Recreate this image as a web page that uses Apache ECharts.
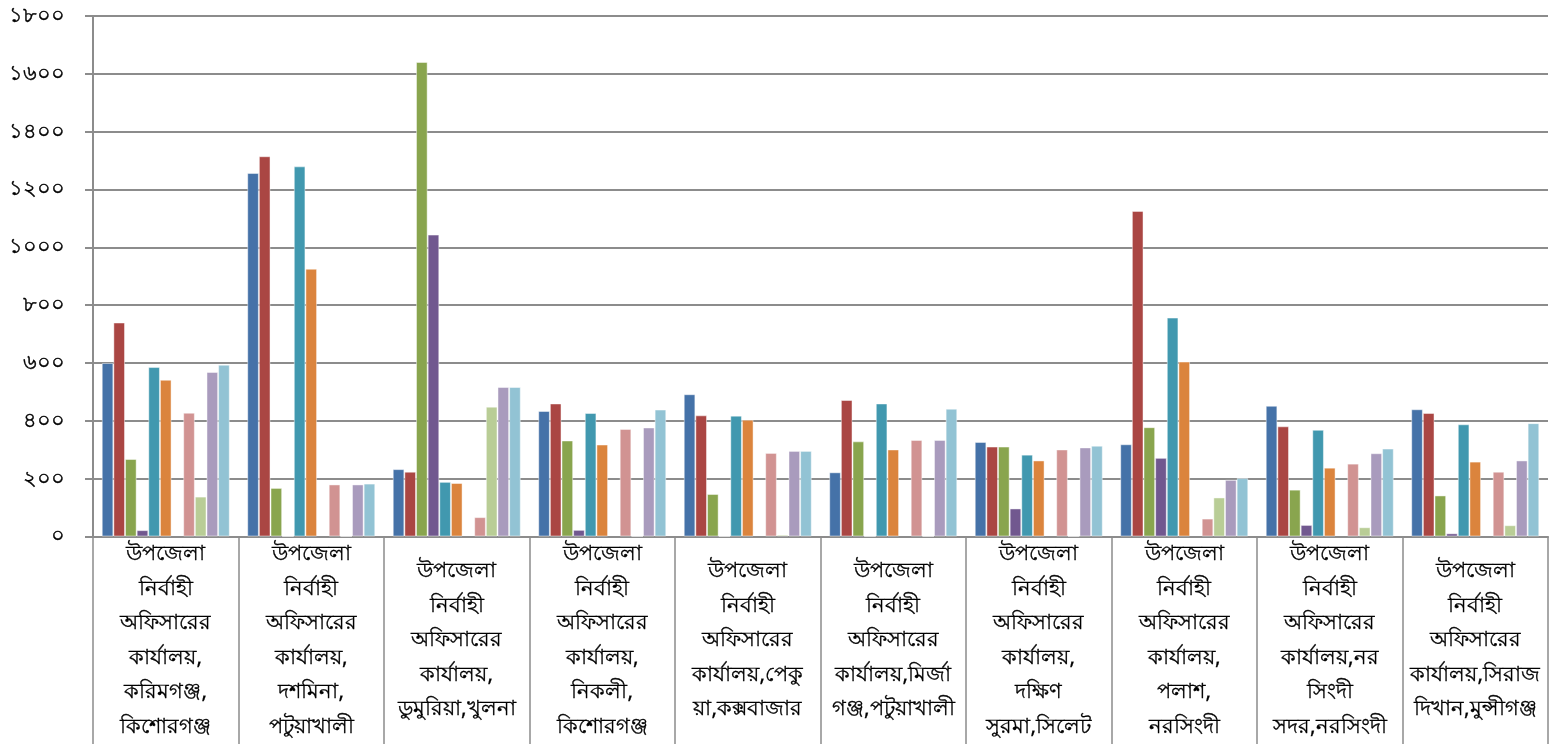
<!DOCTYPE html>
<html><head><meta charset="utf-8">
<script src="https://cdn.jsdelivr.net/npm/echarts@6/dist/echarts.min.js"></script>
<style>html,body{margin:0;padding:0;background:#fff}#c{width:1564px;height:744px}</style>
</head><body><div id="c"></div>
<script>
const categories = [
  "উপজেলা\nনির্বাহী\nঅফিসারের\nকার্যালয়,\nকরিমগঞ্জ,\nকিশোরগঞ্জ",
  "উপজেলা\nনির্বাহী\nঅফিসারের\nকার্যালয়,\nদশমিনা,\nপটুয়াখালী",
  "উপজেলা\nনির্বাহী\nঅফিসারের\nকার্যালয়,\nডুমুরিয়া,খুলনা",
  "উপজেলা\nনির্বাহী\nঅফিসারের\nকার্যালয়,\nনিকলী,\nকিশোরগঞ্জ",
  "উপজেলা\nনির্বাহী\nঅফিসারের\nকার্যালয়,পেকু\nয়া,কক্সবাজার",
  "উপজেলা\nনির্বাহী\nঅফিসারের\nকার্যালয়,মির্জা\nগঞ্জ,পটুয়াখালী",
  "উপজেলা\nনির্বাহী\nঅফিসারের\nকার্যালয়,\nদক্ষিণ\nসুরমা,সিলেট",
  "উপজেলা\nনির্বাহী\nঅফিসারের\nকার্যালয়,\nপলাশ,\nনরসিংদী",
  "উপজেলা\nনির্বাহী\nঅফিসারের\nকার্যালয়,নর\nসিংদী\nসদর,নরসিংদী",
  "উপজেলা\nনির্বাহী\nঅফিসারের\nকার্যালয়,সিরাজ\nদিখান,মুন্সীগঞ্জ"
];
const yTickLabels = ["০","২০০","৪০০","৬০০","৮০০","১০০০","১২০০","১৪০০","১৬০০","১৮০০"];

const s1  = [600, 1257, 233, 434, 492, 222, 327, 319, 452, 440];
const s2  = [740, 1315, 224, 460, 419, 472, 311, 1126, 381, 427];
const s3  = [268, 168, 1641, 332, 147, 329, 311, 378, 162, 142];
const s4  = [22, 0, 1044, 23, 0, 0, 97, 272, 40, 11];
const s5  = [586, 1280, 189, 427, 418, 460, 283, 757, 369, 388];
const s6  = [542, 926, 185, 318, 404, 301, 263, 605, 238, 259];
const s7  = [null, null, null, null, null, null, null, null, null, null];
const s8  = [428, 180, 67, 372, 289, 334, 301, 62, 252, 224];
const s9  = [138, 0, 449, 0, 6, 0, 0, 135, 32, 39];
const s10 = [569, 180, 517, 377, 296, 334, 308, 196, 288, 263];
const s11 = [594, 183, 517, 439, 296, 442, 314, 202, 304, 392];

const seriesData = [s1,s2,s3,s4,s5,s6,s7,s8,s9,s10,s11];
const colors = ["#4572A8","#AA4643","#89A54E","#71588F","#4198AF","#DB843D","#93A9CF","#D19392","#B9CD96","#A99BBD","#92C3D4"];

const chart = echarts.init(document.getElementById('c'), null, {renderer:'canvas'});
chart.setOption({
  animation: false,
  backgroundColor: '#fff',
  grid: {left: 93, right: 16, top: 16, bottom: 207, containLabel: false},
  xAxis: {
    type: 'category',
    data: categories,
    axisLine: {show: true, lineStyle: {color: '#8c8c8c', width: 2}},
    axisTick: {show: true, length: 210, alignWithLabel: false, lineStyle: {color: '#8c8c8c', width: 1.5}},
    axisLabel: {
      interval: 0,
      margin: 104,
      verticalAlign: 'middle',
      align: 'center',
      fontSize: 21,
      lineHeight: 34.5,
      color: '#000',
      textBorderColor: '#000',
      textBorderWidth: 0.3,
      fontFamily: 'Noto Sans, sans-serif'
    },
    splitLine: {show: false}
  },
  yAxis: {
    type: 'value',
    min: 0, max: 1800, interval: 200,
    axisLine: {show: true, lineStyle: {color: '#8c8c8c', width: 2}},
    axisTick: {show: true, length: 8, inside: false, lineStyle: {color: '#8c8c8c', width: 2}},
    splitLine: {show: true, lineStyle: {color: '#8c8c8c', width: 2}},
    axisLabel: {
      margin: 28,
      fontSize: 21,
      color: '#000',
      textBorderColor: '#000',
      textBorderWidth: 0.4,
      fontFamily: 'Noto Sans, sans-serif',
      formatter: function (v) { return yTickLabels[Math.round(v / 200)]; }
    }
  },
  series: seriesData.map((d, i) => ({
    type: 'bar',
    data: d,
    barGap: '0%',
    barCategoryGap: '12%',
    itemStyle: {color: colors[i], borderColor: 'rgba(255,255,255,0.45)', borderWidth: 1}
  }))
});
</script>
</body></html>
